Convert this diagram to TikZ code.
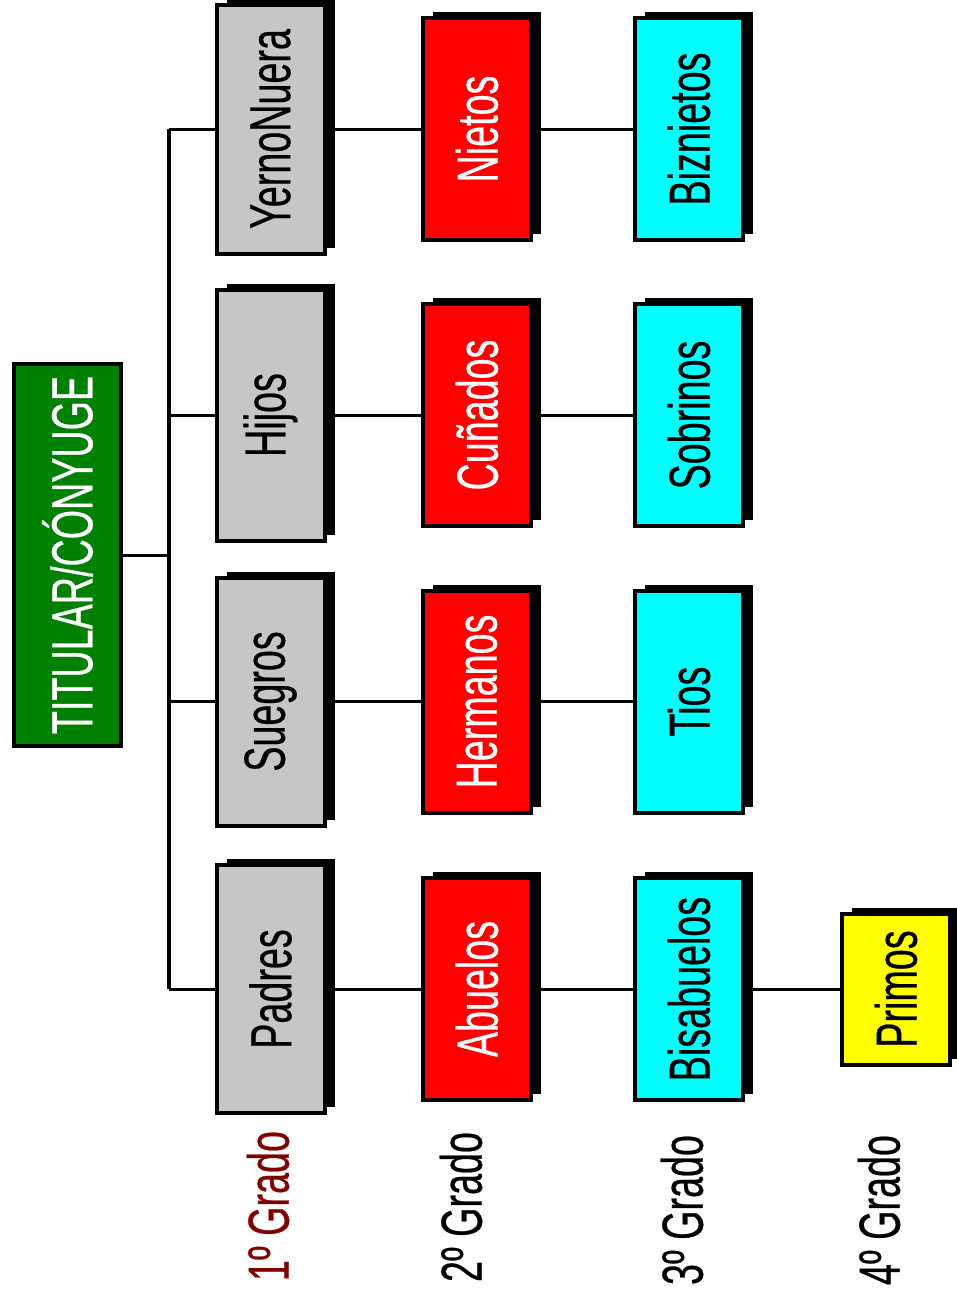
\documentclass[tikz,border=0pt]{standalone}
\usepackage{fontspec}
\newfontfamily\cajafont[FakeStretch=0.65,FakeBold=0.4]{Liberation Sans}
\usetikzlibrary{shadows}
\definecolor{gris}{RGB}{198,198,198}
\definecolor{rojo}{RGB}{255,0,0}
\definecolor{cian}{RGB}{0,255,255}
\definecolor{amarillo}{RGB}{255,255,0}
\definecolor{verde}{RGB}{0,128,0}
\definecolor{granate}{RGB}{128,0,0}
\tikzset{
	caja/.style={draw=black, line width=4pt, inner sep=0pt, minimum width=108pt, minimum height=222pt,
		font=\cajafont\fontsize{58}{60}\selectfont,
		drop shadow={shadow xshift=10pt, shadow yshift=6pt, fill=black, opacity=1}},
	titular/.style={draw=black, line width=4pt, fill=verde, text=white, inner sep=0pt,
		minimum width=107pt, minimum height=382pt, font=\cajafont\fontsize{58}{60}\selectfont},
	grado/.style={inner sep=0pt, font=\cajafont\fontsize{58}{60}\selectfont},
	rama/.style={line width=3pt}
}
\begin{document}
\begin{tikzpicture}[x=1pt,y=-1pt]
			%%%%% START %%%%%
			\useasboundingbox (0,0) rectangle (956,1301);
			
			\node[titular] (tit) at (67.5,555) {\rotatebox{90}{TITULAR/CÓNYUGE}};
			\coordinate (tronco) at (169,555);
			
			% 1er grado
			\node[caja, fill=gris, minimum height=249pt] (yerno) at (270.5,129) {\rotatebox{90}{YernoNuera}};
			\node[caja, fill=gris, minimum height=251pt] (hijos) at (270.5,415) {\rotatebox{90}{Hijos}};
			\node[caja, fill=gris, minimum height=248pt] (suegros) at (270.5,701.5) {\rotatebox{90}{Suegros}};
			\node[caja, fill=gris, minimum height=248pt] (padres) at (270.5,989) {\rotatebox{90}{Padres}};
			
			% 2o grado
			\node[caja, fill=rojo, text=white] (nietos) at (477,129) {\rotatebox{90}{Nietos}};
			\node[caja, fill=rojo, text=white] (cunados) at (477,415) {\rotatebox{90}{Cuñados}};
			\node[caja, fill=rojo, text=white] (hermanos) at (477,701.5) {\rotatebox{90}{Hermanos}};
			\node[caja, fill=rojo, text=white] (abuelos) at (477,989) {\rotatebox{90}{Abuelos}};
			
			% 3er grado
			\node[caja, fill=cian] (biznietos) at (689,129) {\rotatebox{90}{Biznietos}};
			\node[caja, fill=cian] (sobrinos) at (689,415) {\rotatebox{90}{Sobrinos}};
			\node[caja, fill=cian] (tios) at (689,701.5) {\rotatebox{90}{Tios}};
			\node[caja, fill=cian] (bisabuelos) at (689,989) {\rotatebox{90}{Bisabuelos}};
			
			% 4o grado
			\node[caja, fill=amarillo, minimum height=151pt] (primos) at (896,989) {\rotatebox{90}{Primos}};
			
			% lineas
			\draw[rama] (tit.east) -- (tronco);
			\draw[line width=4pt] (tronco |- yerno) -- (tronco |- padres);
			\foreach \n in {yerno,hijos,suegros,padres}
				\draw[rama] (tronco |- \n) -- (\n.west);
			\draw[rama] (yerno) -- (nietos) -- (biznietos);
			\draw[rama] (hijos) -- (cunados) -- (sobrinos);
			\draw[rama] (suegros) -- (hermanos) -- (tios);
			\draw[rama] (padres) -- (abuelos) -- (bisabuelos) -- (primos);
			
			% grados
			\node[grado, text=granate] (g1) at (268,1206) {\rotatebox{90}{1º Grado}};
			\node[grado] (g2) at (461,1207) {\rotatebox{90}{2º Grado}};
			\node[grado] (g3) at (682,1210) {\rotatebox{90}{3º Grado}};
			\node[grado] (g4) at (879,1210) {\rotatebox{90}{4º Grado}};
			
			%%%%% END %%%%%
\end{tikzpicture}
\end{document}
